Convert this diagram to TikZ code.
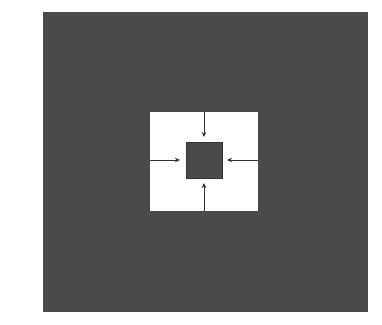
\documentclass[tikz,border=0pt]{standalone}
\usetikzlibrary{arrows.meta}
\definecolor{darkfill}{HTML}{4A4A4A}
\definecolor{arrowcol}{HTML}{333333}
\begin{document}
\begin{tikzpicture}[x=1pt,y=-1pt,
  box/.style={draw=none,inner sep=0pt,outer sep=0pt,minimum width=#1},
  flow/.style={draw=arrowcol,line width=0.8pt,-{Stealth[length=5pt,width=4.5pt]},shorten >=5pt}]
\useasboundingbox[fill=white] (0,0) rectangle (382,324);
\node[box=325pt,minimum height=300pt,fill=darkfill] (outer) at (205.5,162) {};
\node[box=108pt,minimum height=99pt,fill=white] (zone) at (204,161.5) {};
\node[box=36pt,minimum height=36pt,fill=darkfill,draw=darkfill!70!black,line width=0.5pt] (core) at (204,160) {};
\draw[flow] (zone.north) -- (core.north);
\draw[flow] (zone.south) -- (core.south);
\draw[flow,shorten >=6pt] (zone.west |- core.west) -- (core.west);
\draw[flow] (zone.east |- core.east) -- (core.east);
\end{tikzpicture}
\end{document}
